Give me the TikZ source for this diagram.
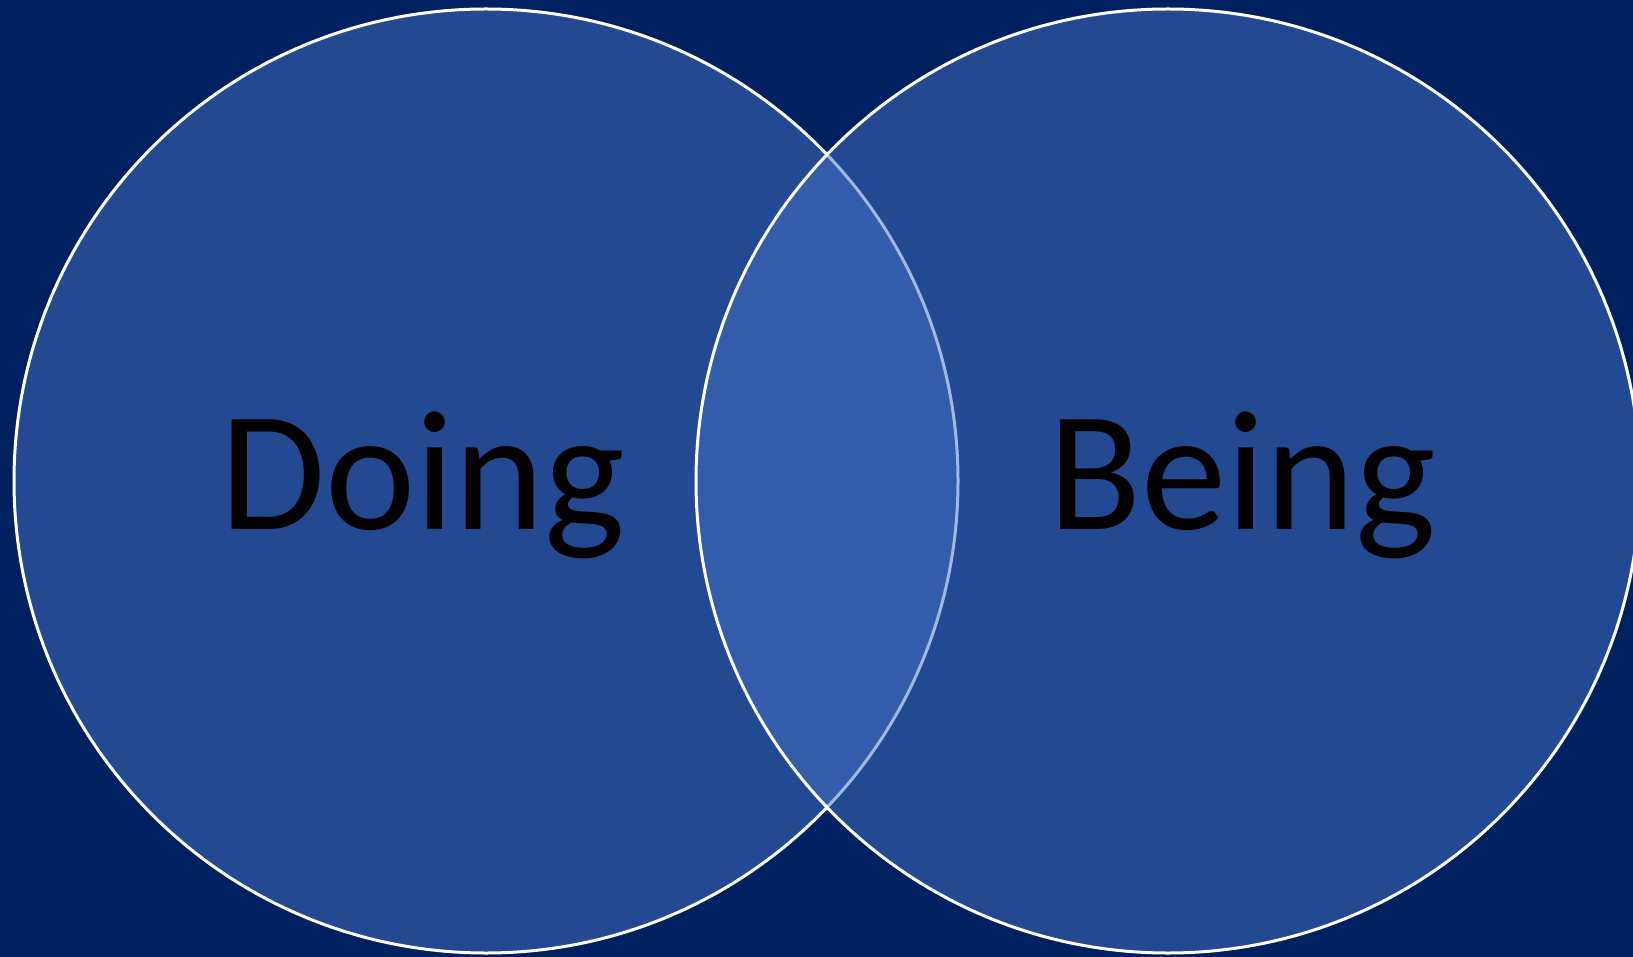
\documentclass[tikz,border=0pt]{standalone}
\usepackage{fontspec}
\setmainfont{Carlito}
\usepackage{xcolor}
\usetikzlibrary{positioning}

\definecolor{bgblue}{RGB}{0,32,96}
\definecolor{vennblue}{RGB}{68,114,196}

\begin{document}
\begin{tikzpicture}[x=1pt, y=-1pt,
    venn/.style={circle, draw=white, line width=3pt, fill=vennblue, fill opacity=0.5, draw opacity=1, minimum size=944pt, inner sep=0pt},
    word/.style={anchor=base, text=black, font=\fontsize{171}{171}\selectfont}]
  \fill[bgblue] (0,0) rectangle (1633,957);
  \useasboundingbox (0,0) rectangle (1633,957);
  \node[venn] (doingc) at (486,481) {};
  \node[venn] (beingc) at (1168,481) {};
  \node[word] (doing) at (423,529) {Doing};
  \node[word] (being) at (1242,529) {Being};
\end{tikzpicture}
\end{document}
